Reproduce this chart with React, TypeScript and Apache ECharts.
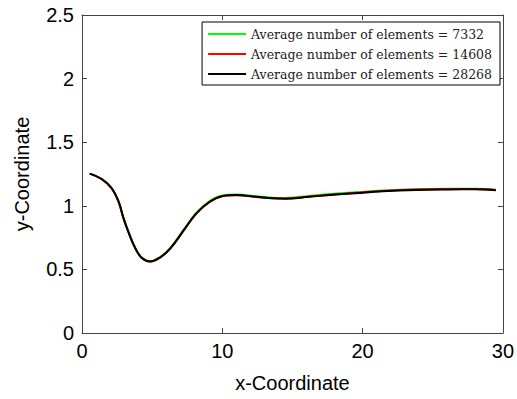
import React, { useEffect, useRef } from "react";
import * as echarts from "echarts";

const xs = [0.55, 1.4, 2.1, 2.6, 2.95, 3.3, 3.8, 4.25, 4.85, 5.55, 6.3, 7.3, 8.15, 9.1, 10.0, 11.0, 12.4, 13.6, 14.5, 16.2, 17.9, 19.5, 21.4, 23.8, 26.2, 28.0, 29.5];
const yBlack = [1.253, 1.211, 1.14, 1.035, 0.905, 0.797, 0.666, 0.592, 0.562, 0.592, 0.666, 0.815, 0.94, 1.032, 1.076, 1.084, 1.071, 1.059, 1.056, 1.071, 1.087, 1.099, 1.114, 1.125, 1.129, 1.13, 1.123];
const yRed = [1.253, 1.21, 1.139, 1.034, 0.904, 0.796, 0.665, 0.592, 0.563, 0.593, 0.666, 0.814, 0.939, 1.031, 1.075, 1.083, 1.07, 1.059, 1.057, 1.073, 1.089, 1.102, 1.117, 1.129, 1.133, 1.133, 1.125];
const yGreen = [1.253, 1.211, 1.141, 1.036, 0.906, 0.798, 0.667, 0.593, 0.564, 0.595, 0.669, 0.82, 0.945, 1.037, 1.081, 1.088, 1.076, 1.064, 1.062, 1.078, 1.094, 1.106, 1.12, 1.131, 1.134, 1.134, 1.126];

const seriesNames = [
  "Average number of elements = 7332",
  "Average number of elements = 14608",
  "Average number of elements = 28268",
];
const seriesColors = ["#00ff00", "#ff0000", "#000000"];
const seriesValues = [yGreen, yRed, yBlack];

export default function App() {
  const ref = useRef<HTMLDivElement>(null);
  useEffect(() => {
    if (!ref.current) return;
    const chart = echarts.init(ref.current, undefined, { renderer: "svg" });
    const axisFont = { fontFamily: "Liberation Sans, Arial, sans-serif", fontSize: 20, color: "#000" };
    const lineStyle = { color: "#444", width: 1 };
    const axisLine = { show: true, onZero: false, lineStyle };
    const axisTick = { show: true, inside: true, length: 5, lineStyle };
    chart.setOption({
      animation: false,
      backgroundColor: "#fff",
      grid: { left: 82, right: 13, top: 15, bottom: 66, containLabel: false },
      legend: {
        data: seriesNames,
        orient: "vertical",
        right: 17,
        top: 22,
        padding: [5, 8, 4, 6],
        borderColor: "#000",
        borderWidth: 1,
        backgroundColor: "#fff",
        icon: "rect",
        itemWidth: 38,
        itemHeight: 2,
        itemGap: 6,
        textStyle: { fontFamily: "DejaVu Serif, serif", fontSize: 12.5, color: "#222", lineHeight: 14 },
      },
      xAxis: [
        {
          type: "value",
          min: 0,
          max: 30,
          interval: 10,
          name: "x-Coordinate",
          nameLocation: "middle",
          nameGap: 40,
          nameTextStyle: axisFont,
          axisLine,
          axisTick,
          axisLabel: { ...axisFont, margin: 8 },
          splitLine: { show: false },
        },
        {
          type: "value",
          position: "top",
          min: 0,
          max: 30,
          interval: 10,
          axisLine,
          axisTick,
          axisLabel: { show: false },
          splitLine: { show: false },
        },
      ],
      yAxis: [
        {
          type: "value",
          min: 0,
          max: 2.5,
          interval: 0.5,
          name: "y-Coordinate",
          nameLocation: "middle",
          nameGap: 50,
          nameTextStyle: axisFont,
          axisLine,
          axisTick,
          axisLabel: { ...axisFont, margin: 8, formatter: (v: number) => String(v) },
          splitLine: { show: false },
        },
        {
          type: "value",
          position: "right",
          min: 0,
          max: 2.5,
          interval: 0.5,
          axisLine,
          axisTick,
          axisLabel: { show: false },
          splitLine: { show: false },
        },
      ],
      series: seriesNames.map((name, i) => ({
        name,
        type: "line",
        xAxisIndex: 0,
        yAxisIndex: 0,
        data: xs.map((x, j) => [x, seriesValues[i][j]]),
        smooth: 0.4,
        symbol: "none",
        color: seriesColors[i],
        lineStyle: { color: seriesColors[i], width: 2 },
        z: 2 + i,
      })),
    });
    return () => chart.dispose();
  }, []);
  return <div ref={ref} style={{ width: 517, height: 399, position: "absolute", left: 0, top: 0 }} />;
}
